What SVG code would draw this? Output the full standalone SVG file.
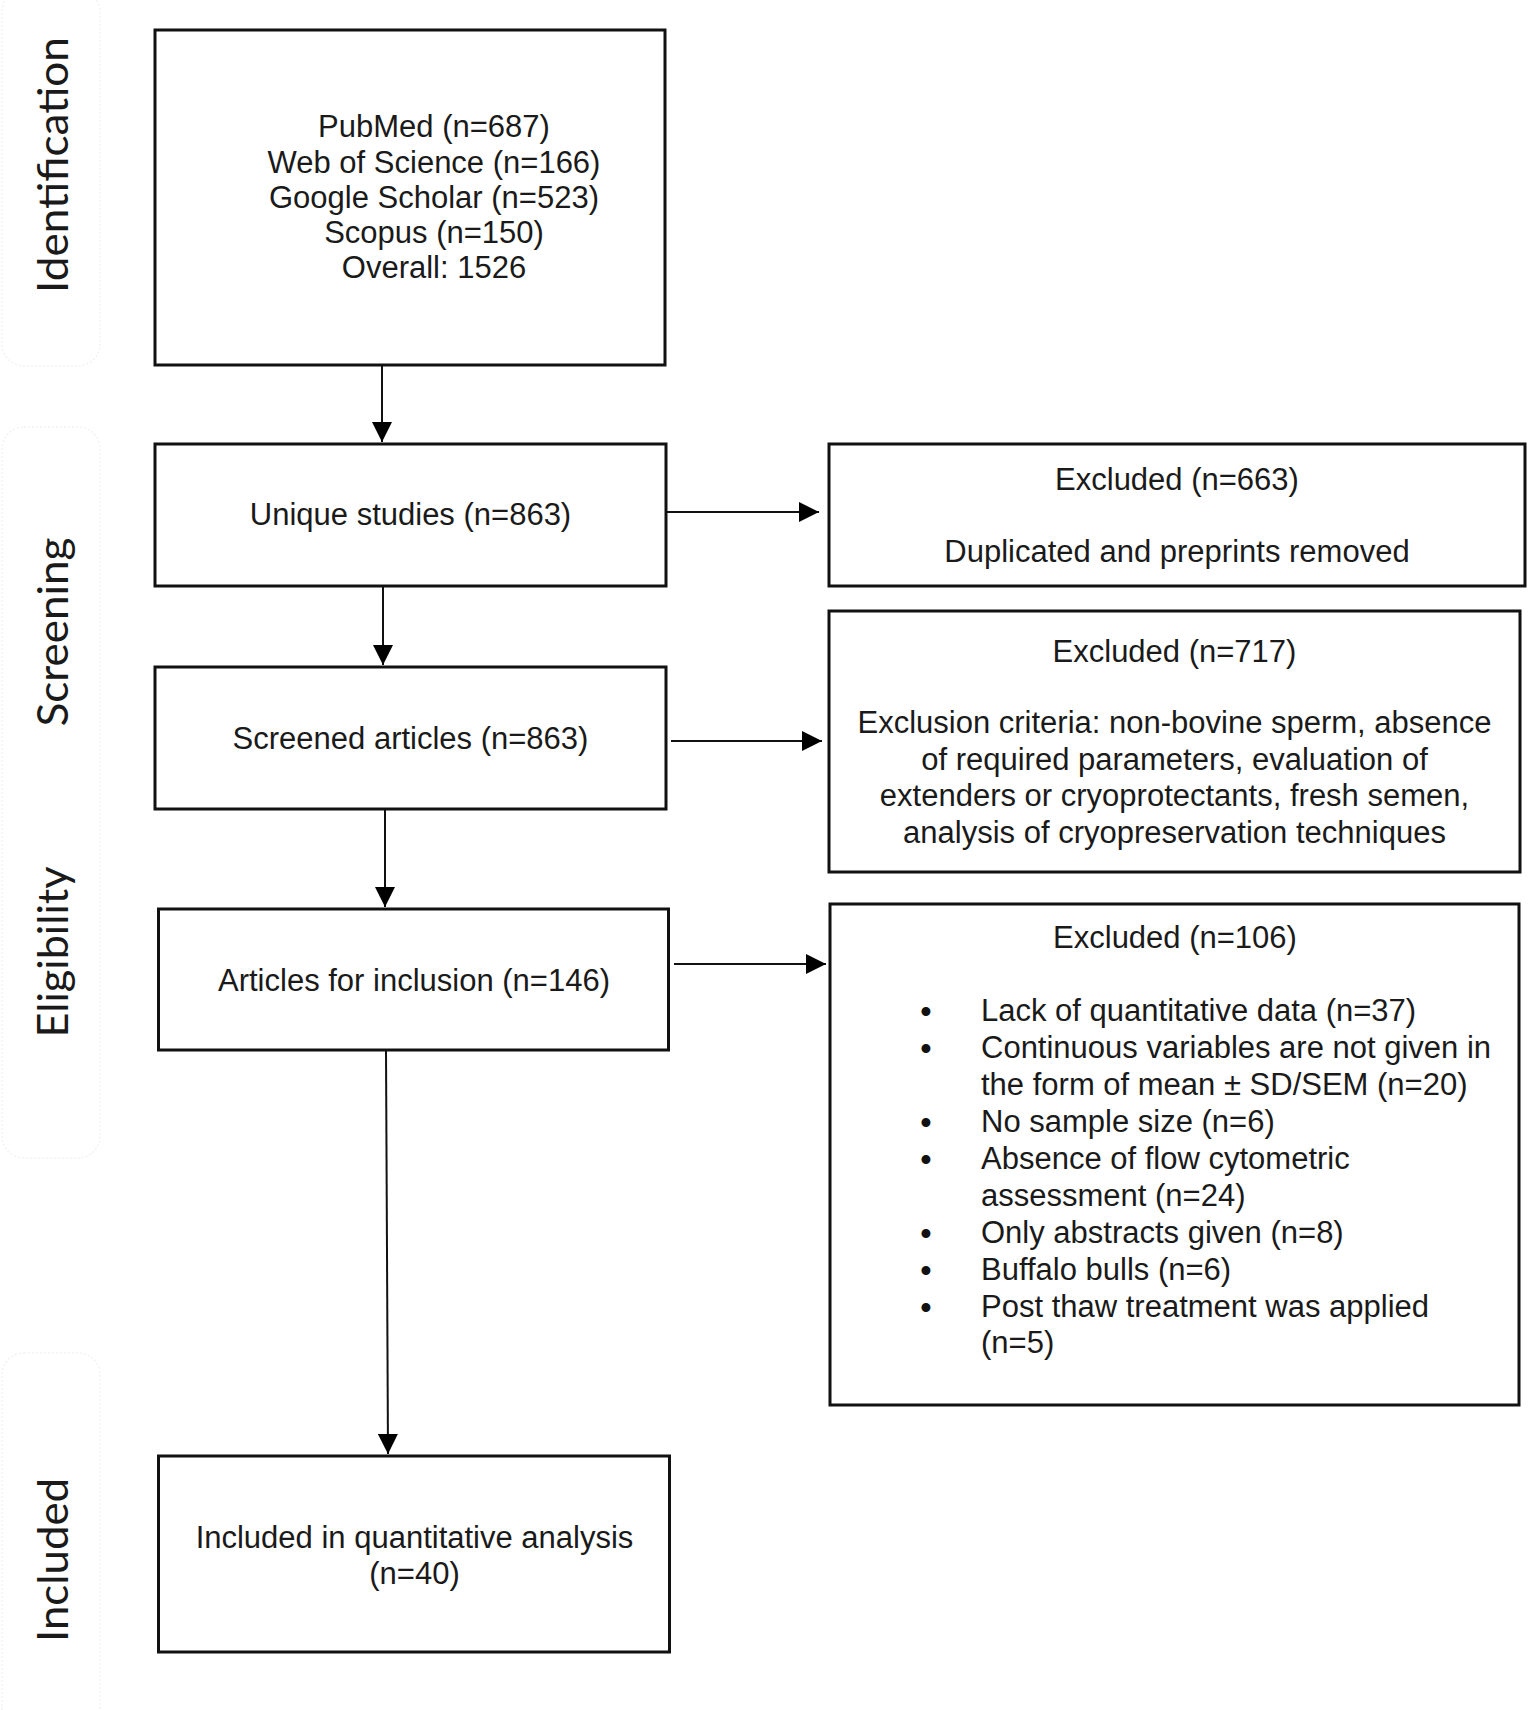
<svg xmlns="http://www.w3.org/2000/svg" width="1532" height="1710" viewBox="0 0 1532 1710">
<defs>
<marker id="ah" markerUnits="userSpaceOnUse" markerWidth="20" markerHeight="20" refX="20" refY="10" orient="auto">
<path d="M0,0 L20,10 L0,20 z" fill="#000"/>
</marker>
<style>
.box{fill:#fff;stroke:#111;stroke-width:3}
.t{font-family:"Liberation Sans",Arial,sans-serif;font-size:31px;fill:#1a1a1a}
.c{text-anchor:middle}
.b{font-family:"Liberation Sans",Arial,sans-serif;font-size:31px;font-weight:bold;fill:#111;text-anchor:middle}
.side{font-family:Lato,"Open Sans",sans-serif;font-size:42px;fill:#1a1a1a;text-anchor:middle}
.lane{fill:none;stroke:#f2f2f2;stroke-width:1.5;stroke-dasharray:2 2}
.conn{stroke:#111;stroke-width:2;fill:none}
</style>
</defs>
<rect width="1532" height="1710" fill="#fff"/>
<g id="lanes">
<rect class="lane" x="2" y="-10" width="98" height="376" rx="22"/>
<rect class="lane" x="2" y="427" width="98" height="731" rx="22"/>
<rect class="lane" x="2" y="1353" width="98" height="380" rx="22"/>
<text class="side" transform="translate(68,165) rotate(-90)" textLength="256" lengthAdjust="spacingAndGlyphs">Identification</text>
<text class="side" transform="translate(68,632) rotate(-90)" textLength="189" lengthAdjust="spacingAndGlyphs">Screening</text>
<text class="side" transform="translate(68,952) rotate(-90)" textLength="171" lengthAdjust="spacingAndGlyphs">Eligibility</text>
<text class="side" transform="translate(68,1560) rotate(-90)" textLength="164" lengthAdjust="spacingAndGlyphs">Included</text>
</g>
<g id="connectors">
<line class="conn" x1="382" y1="366" x2="382" y2="442" marker-end="url(#ah)"/>
<line class="conn" x1="383" y1="587" x2="383" y2="665" marker-end="url(#ah)"/>
<line class="conn" x1="385" y1="810" x2="385" y2="907" marker-end="url(#ah)"/>
<line class="conn" x1="386" y1="1051" x2="388" y2="1454" marker-end="url(#ah)"/>
<line class="conn" x1="667" y1="512" x2="819" y2="512" marker-end="url(#ah)"/>
<line class="conn" x1="671" y1="741" x2="822" y2="741" marker-end="url(#ah)"/>
<line class="conn" x1="674" y1="964" x2="826" y2="964" marker-end="url(#ah)"/>
</g>
<g id="n1">
<rect class="box" x="155" y="30" width="510" height="335"/>
<text class="t c" x="434" y="137">PubMed (n=687)</text>
<text class="t c" x="434" y="172.5">Web of Science (n=166)</text>
<text class="t c" x="434" y="207.5">Google Scholar (n=523)</text>
<text class="t c" x="434" y="243">Scopus (n=150)</text>
<text class="t c" x="434" y="278">Overall: 1526</text>
</g>
<g id="n2">
<rect class="box" x="155" y="444" width="511" height="142"/>
<text class="t c" x="410.5" y="525">Unique studies (n=863)</text>
</g>
<g id="n3">
<rect class="box" x="155" y="667" width="511" height="142"/>
<text class="t c" x="410.5" y="749">Screened articles (n=863)</text>
</g>
<g id="n4">
<rect class="box" x="158.5" y="909" width="510" height="141"/>
<text class="t c" x="414" y="991">Articles for inclusion (n=146)</text>
</g>
<g id="n5">
<rect class="box" x="158.5" y="1456" width="511" height="196"/>
<text class="t c" x="414.5" y="1548">Included in quantitative analysis</text>
<text class="t c" x="414.5" y="1584">(n=40)</text>
</g>
<g id="nA">
<rect class="box" x="829" y="444" width="696" height="142"/>
<text class="t c" x="1177" y="490">Excluded (n=663)</text>
<text class="t c" x="1177" y="562">Duplicated and preprints removed</text>
</g>
<g id="nB">
<rect class="box" x="829" y="611" width="691" height="261"/>
<text class="t c" x="1174.5" y="662">Excluded (n=717)</text>
<text class="t c" x="1174.5" y="733">Exclusion criteria: non-bovine sperm, absence</text>
<text class="t c" x="1174.5" y="769.5">of required parameters, evaluation of</text>
<text class="t c" x="1174.5" y="806">extenders or cryoprotectants, fresh semen,</text>
<text class="t c" x="1174.5" y="842.5">analysis of cryopreservation techniques</text>
</g>
<g id="nC">
<rect class="box" x="830" y="904" width="689" height="501"/>
<text class="t c" x="1175" y="948">Excluded (n=106)</text>
<text class="b" x="926" y="1022">•</text>
<text class="t" x="981" y="1021">Lack of quantitative data (n=37)</text>
<text class="b" x="926" y="1059">•</text>
<text class="t" x="981" y="1058">Continuous variables are not given in</text>
<text class="t" x="981" y="1095">the form of mean ± SD/SEM (n=20)</text>
<text class="b" x="926" y="1133">•</text>
<text class="t" x="981" y="1132">No sample size (n=6)</text>
<text class="b" x="926" y="1170">•</text>
<text class="t" x="981" y="1169">Absence of flow cytometric</text>
<text class="t" x="981" y="1205.5">assessment (n=24)</text>
<text class="b" x="926" y="1243.5">•</text>
<text class="t" x="981" y="1242.5">Only abstracts given (n=8)</text>
<text class="b" x="926" y="1280.5">•</text>
<text class="t" x="981" y="1279.5">Buffalo bulls (n=6)</text>
<text class="b" x="926" y="1317.5">•</text>
<text class="t" x="981" y="1316.5">Post thaw treatment was applied</text>
<text class="t" x="981" y="1353">(n=5)</text>
</g>
</svg>
